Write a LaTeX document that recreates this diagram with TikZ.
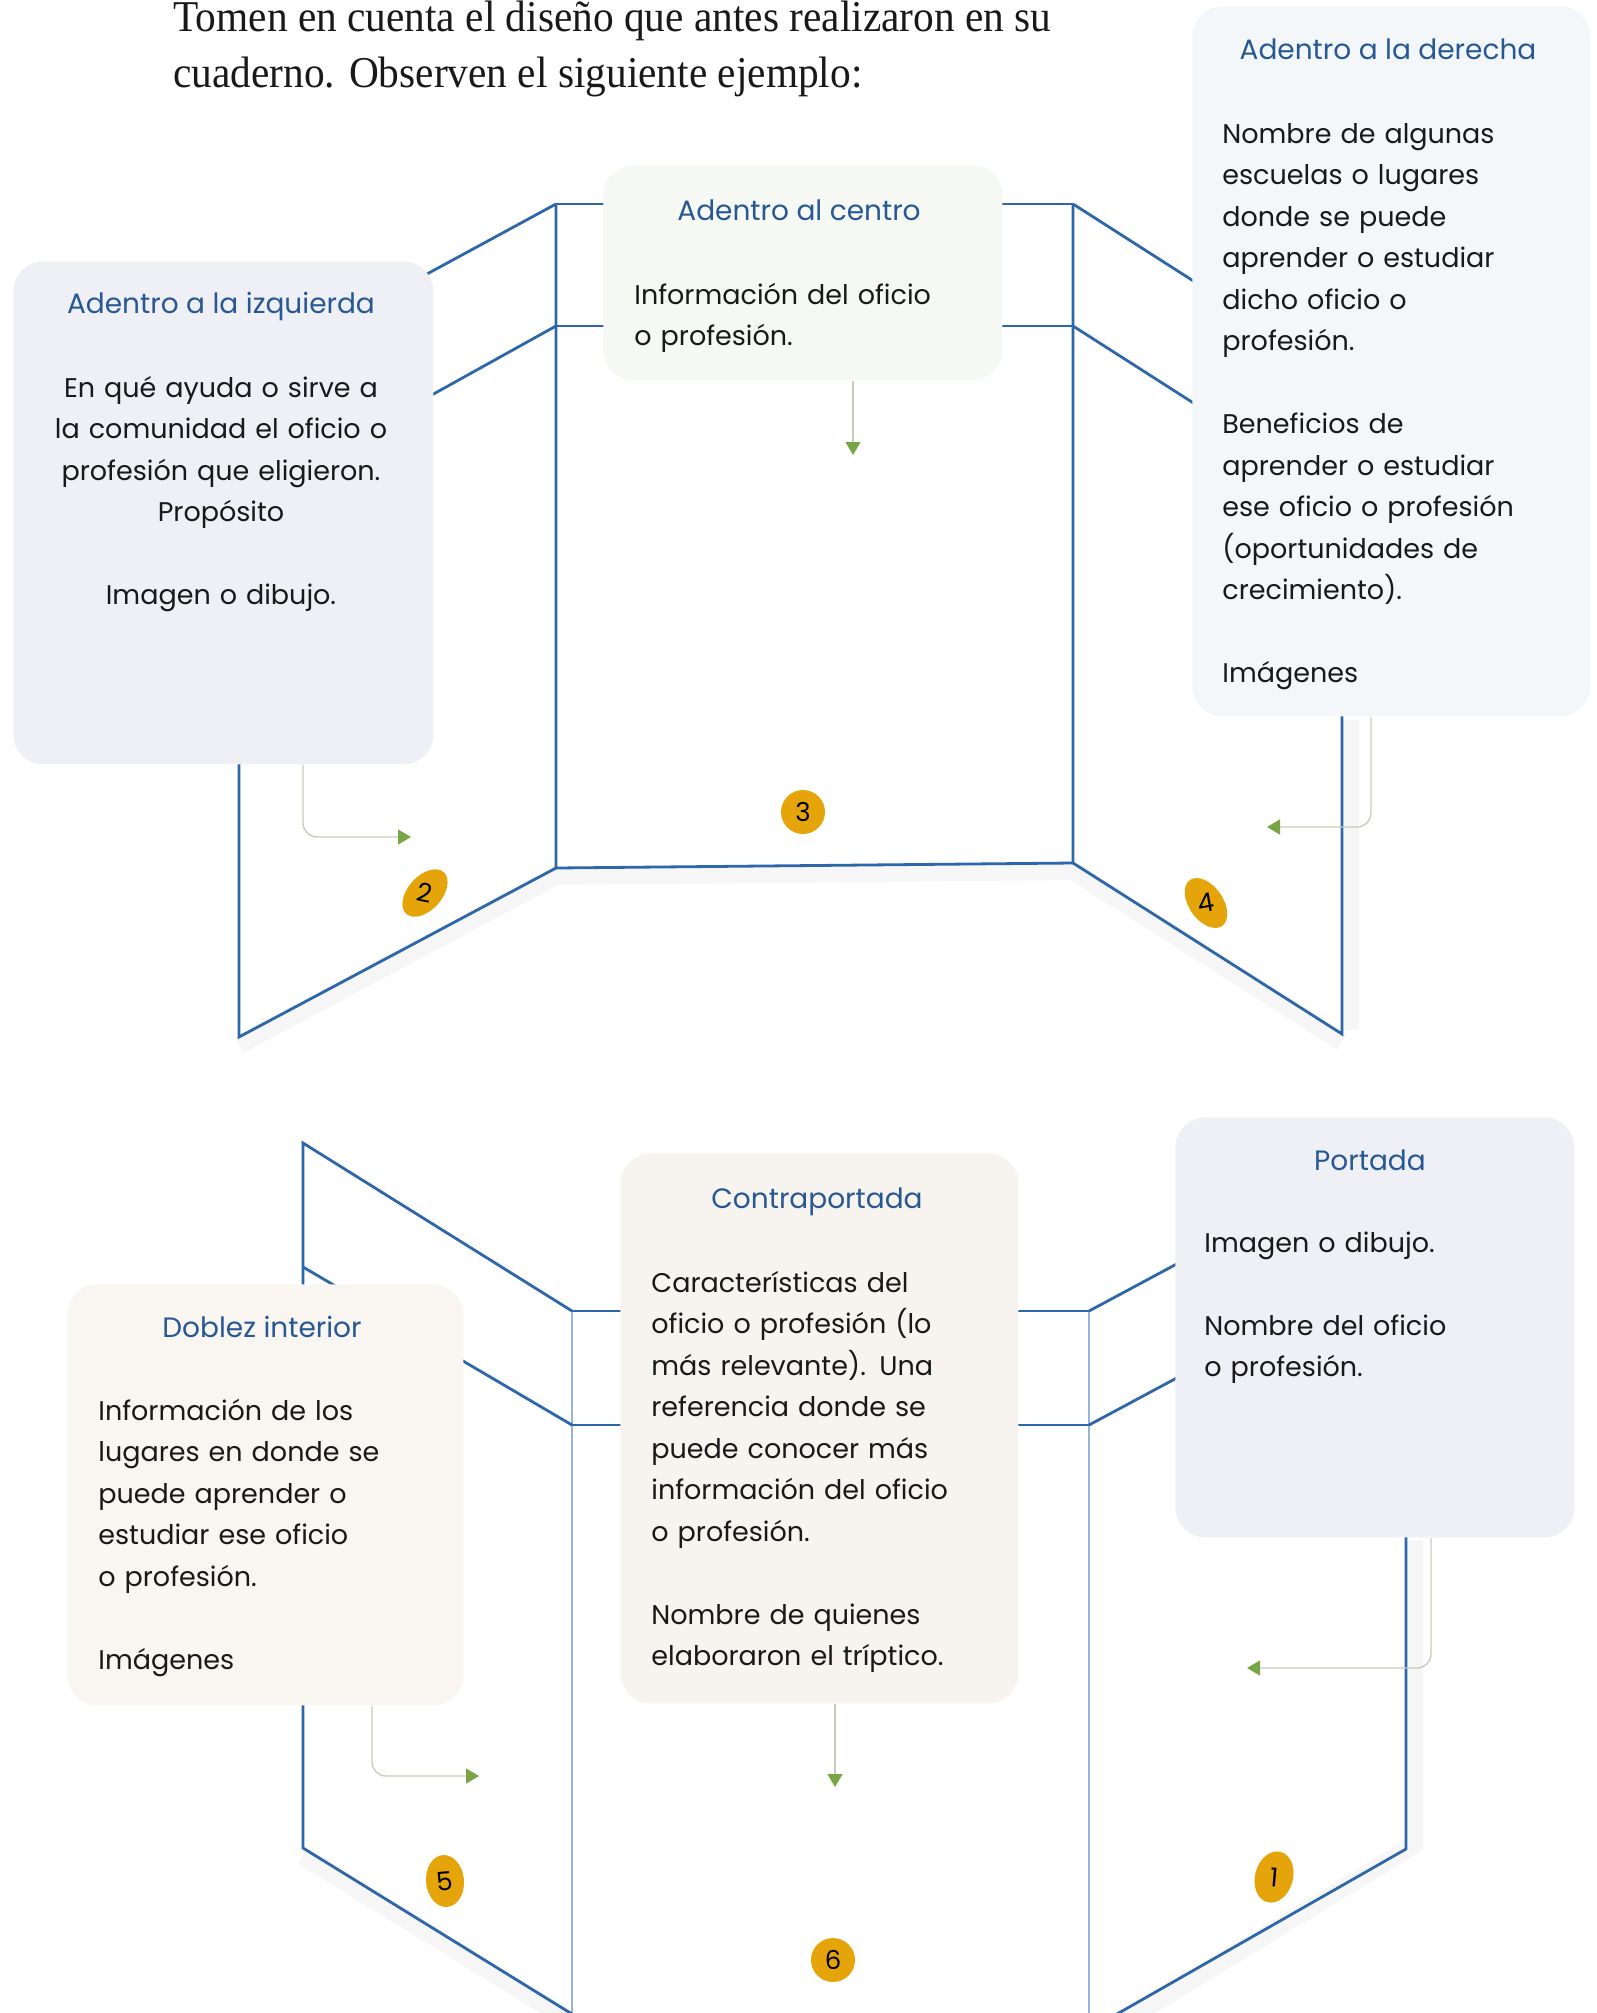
\documentclass[tikz,border=0pt]{standalone}
\usepackage{fontspec}
\setmainfont{Poppins}
\newfontfamily\headfont[FakeStretch=0.94]{Liberation Serif}
\usetikzlibrary{arrows.meta,shapes.geometric}
\definecolor{panelblue}{RGB}{46,102,170}
\definecolor{faintblue}{RGB}{150,180,215}
\definecolor{titleblue}{RGB}{40,88,148}
\definecolor{gold}{RGB}{229,165,10}
\definecolor{arrowgreen}{RGB}{120,165,70}
\definecolor{stemgray}{RGB}{196,206,186}
\definecolor{boxlav}{RGB}{239,239,246}
\definecolor{boxmint}{RGB}{246,248,244}
\definecolor{boxsky}{RGB}{243,247,250}
\definecolor{boxcream}{RGB}{249,246,241}
\definecolor{boxsand}{RGB}{247,244,239}
\definecolor{inktext}{RGB}{25,25,25}
\begin{document}
\begin{tikzpicture}[x=0.5pt,y=-0.5pt,
  panel/.style={draw=panelblue,line width=1.4pt,line join=miter},
  faintpanel/.style={draw=faintblue,line width=0.8pt},
  softshade/.style={draw=black,opacity=0.035,line width=9pt},
  infobox/.style={rectangle,rounded corners=15pt,inner sep=0pt,anchor=north west,draw=none},
  boxtitle/.style={font=\fontsize{14}{20.75}\selectfont,text=titleblue,anchor=base,inner sep=0pt},
  boxbody/.style={font=\fontsize{13.5}{20.75}\selectfont,text=inktext,anchor=base west,inner sep=0pt,align=left,text width=195pt},
  flow/.style={draw=stemgray,line width=0.7pt,rounded corners=7pt,-{Triangle[length=6.5pt,width=7.5pt,color=arrowgreen]}},
  badge/.style={circle,fill=gold,inner sep=0pt,minimum size=22pt,font=\fontsize{13}{13}\selectfont},
  tiltbadge/.style={ellipse,fill=gold,inner sep=0pt,minimum width=17pt,minimum height=28pt,font=\fontsize{13}{13}\selectfont},
  headline/.style={font=\headfont\fontsize{22}{28}\selectfont,text=inktext,anchor=base west,inner sep=0pt}
]
\useasboundingbox (0,0) rectangle (1596,2013);
\clip (0,0) rectangle (1596,2013);

% ---------- heading ----------
\node[headline] (head1) at (173,32) {Tomen en cuenta el diseño que antes realizaron en su};
\node[headline] (head2) at (173,87) {cuaderno. Observen el siguiente ejemplo:};

% ---------- soft shadows ----------
\draw[softshade] (239,1045) -- (556,876) -- (1073,871) -- (1342,1042);
\draw[softshade] (1350,720) -- (1350,1030);
\draw[softshade] (303,1856) -- (572,2022);
\draw[softshade] (1414,1540) -- (1414,1845) -- (1097,2038);

% ---------- top trifold ----------
% center panel
\draw[panel] (556,204) -- (1073,204);
\draw[panel] (556,326) -- (1073,326);
\draw[panel] (556,204) -- (556,868) -- (1073,863) -- (1073,204);
% left panel
\draw[panel] (556,204) -- (239,376);
\draw[panel] (556,326) -- (239,502);
\draw[panel] (239,376) -- (239,1037) -- (556,868);
% right panel
\draw[panel] (1073,204) -- (1342,376);
\draw[panel] (1073,326) -- (1342,498);
\draw[panel] (1342,376) -- (1342,1034) -- (1073,863);

% ---------- bottom trifold ----------
\draw[faintpanel] (572,1311) -- (572,2030);
\draw[faintpanel] (1089,1311) -- (1089,2030);
\draw[panel] (572,1311) -- (1089,1311);
\draw[panel] (572,1425) -- (1089,1425);
% left panel
\draw[panel] (572,1311) -- (303,1143) -- (303,1848) -- (572,2014);
\draw[panel] (572,1425) -- (303,1267);
% right panel
\draw[panel] (1089,1311) -- (1406,1141) -- (1406,1849) -- (1089,2030);
\draw[panel] (1089,1425) -- (1406,1255);

% ---------- boxes: top ----------
\node[infobox,fill=boxlav,minimum width=210pt,minimum height=251.5pt] (lbox) at (13,261) {};
\node[boxtitle] (ltitle) at (221,313) {Adentro a la izquierda};
\node[boxbody,anchor=base,align=center] (lbody) at (221,397) {En qué ayuda o sirve a\\la comunidad el oficio o\\profesión que eligieron.\\Propósito\\[20.75pt]Imagen o dibujo.};

\node[infobox,fill=boxmint,minimum width=199.5pt,minimum height=107.5pt] (cbox) at (603,165) {};
\node[boxtitle] (ctitle) at (799,220) {Adentro al centro};
\node[boxbody] (cbody) at (634,304) {Información del oficio\\o profesión.};

\node[infobox,fill=boxsky,minimum width=199pt,minimum height=355pt] (rbox) at (1192,6) {};
\node[boxtitle] (rtitle) at (1388,59) {Adentro a la derecha};
\node[boxbody] (rbody) at (1222,143) {Nombre de algunas\\escuelas o lugares\\donde se puede\\aprender o estudiar\\dicho oficio o\\profesión.\\[20.75pt]Beneficios de\\aprender o estudiar\\ese oficio o profesión\\(oportunidades de\\crecimiento).\\[20.75pt]Imágenes};

% ---------- boxes: bottom ----------
\node[infobox,fill=boxcream,minimum width=198pt,minimum height=210.5pt] (dbox) at (67,1284) {};
\node[boxtitle] (dtitle) at (262,1337) {Doblez interior};
\node[boxbody] (dbody) at (98,1420) {Información de los\\lugares en donde se\\puede aprender o\\estudiar ese oficio\\o profesión.\\[20.75pt]Imágenes};

\node[infobox,fill=boxsand,minimum width=199pt,minimum height=275pt] (kbox) at (620,1153) {};
\node[boxtitle] (ktitle) at (817,1208) {Contraportada};
\node[boxbody] (kbody) at (651,1292) {Características del\\oficio o profesión (lo\\más relevante). Una\\referencia donde se\\puede conocer más\\información del oficio\\o profesión.\\[20.75pt]Nombre de quienes\\elaboraron el tríptico.};

\node[infobox,fill=boxlav,minimum width=199.5pt,minimum height=210pt] (pbox) at (1175,1117) {};
\node[boxtitle] (ptitle) at (1370,1170) {Portada};
\node[boxbody] (pbody) at (1204,1252) {Imagen o dibujo.\\[20.75pt]Nombre del oficio\\o profesión.};

% ---------- arrows ----------
\coordinate (cEnd) at (853,455);
\coordinate (lEnd) at (411,837);
\coordinate (lStart) at (303,0);
\coordinate (rEnd) at (1267,827);
\coordinate (rStart) at (1371,0);
\draw[flow] (cbox.south -| cEnd) -- (cEnd);
\draw[flow] (lbox.south -| lStart) |- (lEnd);
\draw[flow] (rbox.south -| rStart) |- (rEnd);

\coordinate (dEnd) at (479,1776);
\coordinate (dStart) at (372,0);
\coordinate (kEnd) at (835,1787);
\coordinate (pEnd) at (1247,1668);
\coordinate (pStart) at (1431,0);
\draw[flow] (dbox.south -| dStart) |- (dEnd);
\draw[flow] (kbox.south -| kEnd) -- (kEnd);
\draw[flow] (pbox.south -| pStart) |- (pEnd);

% ---------- badges ----------
\node[badge] (n3) at (803,812) {3};
\node[tiltbadge,rotate=-42] (n2) at (425,893) {\rotatebox{30}{2}};
\node[tiltbadge,rotate=35] (n4) at (1206,903) {\rotatebox{-25}{4}};
\node[tiltbadge,rotate=5,minimum width=19pt,minimum height=26pt] (n5) at (445,1881) {5};
\node[tiltbadge,rotate=-15,minimum width=19pt,minimum height=26pt] (n1) at (1274,1877) {\rotatebox{10}{1}};
\node[badge] (n6) at (833,1960) {6};
\end{tikzpicture}
\end{document}
